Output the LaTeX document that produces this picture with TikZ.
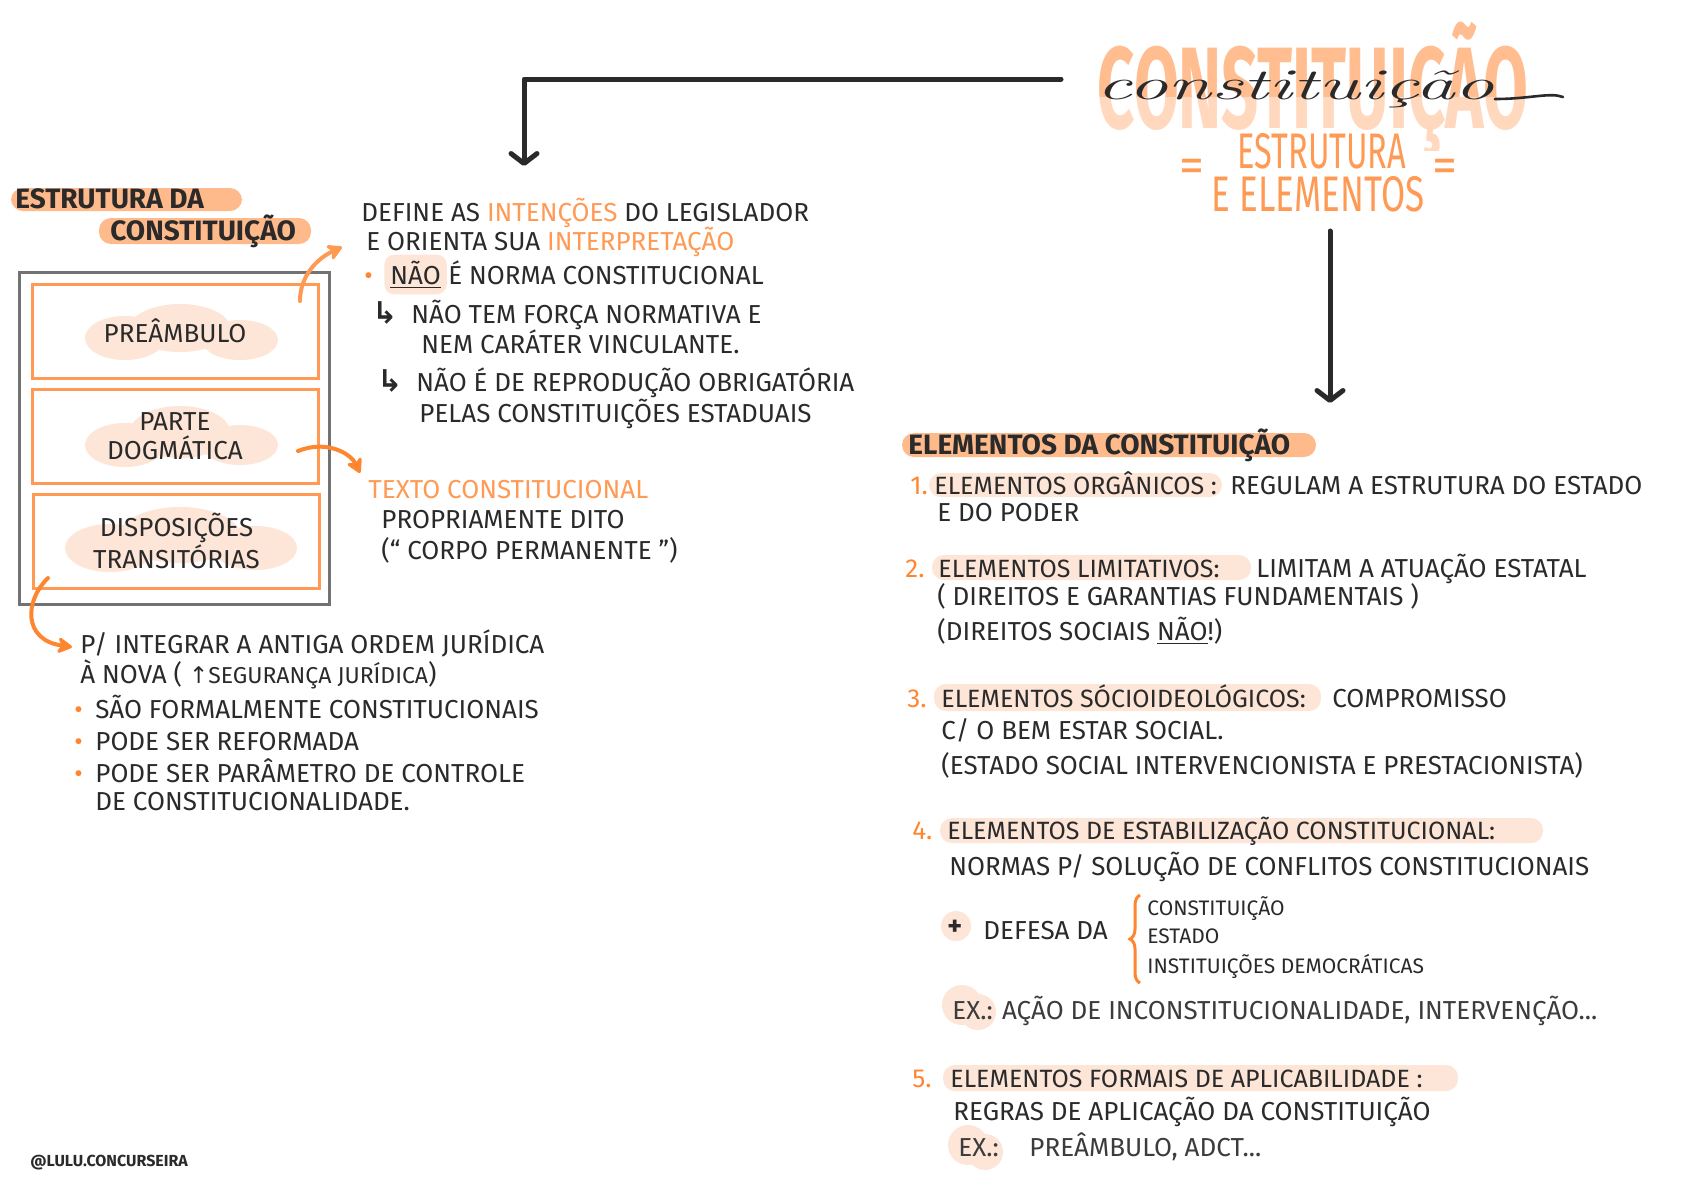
\documentclass[tikz,border=0pt]{standalone}
\usepackage{fontspec}
\setsansfont{Fira Sans}
\newfontfamily\symfont{DejaVu Sans}
\usepackage{graphicx}
\usetikzlibrary{arrows.meta, decorations.pathreplacing}
\definecolor{ink}{HTML}{2A2A2A}
\definecolor{ink3}{HTML}{727272}
\definecolor{ink4}{HTML}{3C3C3C}
\definecolor{orng}{HTML}{FF9A55}
\definecolor{orng2}{HTML}{FF8630}
\definecolor{peach}{HTML}{FFBA8C}
\definecolor{peach2}{HTML}{FDE5D7}
\definecolor{ttop}{HTML}{FFBD90}
\definecolor{tbot}{HTML}{FFD8BD}

\begin{document}
\begin{tikzpicture}[x=0.5pt, y=-0.5pt, font=\sffamily\fontsize{13}{14.5}\selectfont,
          tx/.style={anchor=base west, inner sep=0pt, text=ink},
          otx/.style={tx, text=orng},
          num/.style={tx, text=orng2},
          lbl/.style={tx, font=\sffamily\fontsize{12.5}{14}\selectfont},
          hd/.style={tx, font=\sffamily\bfseries\fontsize{14}{16}\selectfont},
          sm/.style={tx, font=\sffamily\fontsize{10.5}{12}\selectfont},
          hook/.style={tx, font=\symfont\bfseries\fontsize{15}{16}\selectfont},
          bar/.style={fill=peach, rounded corners=6pt},
          lbar/.style={fill=peach2, rounded corners=6pt},
          blob/.style={fill=peach2},
          bx/.style={draw=orng, line width=1.5pt, minimum width=143pt, minimum height=47pt,
                     align=center, text=ink},
          ttl/.style={anchor=base, inner sep=0pt, font=\sffamily\bfseries\fontsize{58}{60}\selectfont},
          sub/.style={anchor=base, inner sep=0pt, text=orng, font=\sffamily\fontsize{25}{27}\selectfont},
          karr/.style={draw=ink, line width=2.5pt, line cap=round, line join=round,
                       -{Straight Barb[length=5pt, width=13pt, round]}},
          oarr/.style={line width=2pt, line cap=round, -{Stealth[round, length=9pt, width=10pt]}}]
        \useasboundingbox (0,0) rectangle (1684,1191);
        \fill[white] (0,0) rectangle (1684,1191);

        % title
        \begin{scope}
          \clip (1050,20) rectangle (1560,97);
          \node[ttl, text=ttop] (ttl) at (1313,128) {\scalebox{0.56}[1]{CONSTITUIÇÃO}};
        \end{scope}
        \begin{scope}
          \clip (1050,97) rectangle (1560,150);
          \node[ttl, text=tbot] (ttlb) at (1313,128) {\scalebox{0.56}[1]{CONSTITUIÇÃO}};
        \end{scope}
        \node[anchor=base west, inner sep=0pt, text=ink] (scr) at (1096,99)
          {\scalebox{1.8}[1]{\rmfamily\itshape\fontsize{22}{24}\selectfont constituição}};
        \coordinate (scrtail) at (1563,97);
        \draw[ink, line width=1.3pt, line cap=round] (scr.base east) .. controls (1530,99) and (1550,92) .. (scrtail);
        \node[sub] (est) at (1322,168) {\scalebox{0.65}[1]{ESTRUTURA}};
        \node[sub] (elem) at (1318,211) {\scalebox{0.7}[1]{E ELEMENTOS}};
        \node[sub] (eqa) at (1192,182) {=};
        \node[sub] (eqb) at (1445,182) {=};

        % arrows from title
        \coordinate (ta) at (1061,79);
        \coordinate (tb) at (524,79);
        \coordinate (tc) at (524,166);
        \draw[karr] (ta) -- (tb) -- (tc);
        \coordinate (ra) at (1330,231);
        \coordinate (rb) at (1330,403);
        \draw[karr] (ra) -- (rb);

        % estrutura da constituicao
        \fill[bar] (11,188) rectangle (242,211);
        \node[hd] (h1) at (15,208) {ESTRUTURA DA};
        \fill[bar] (99,218) rectangle (311,244);
        \node[hd] (h2) at (110,240) {CONSTITUIÇÃO};

        \draw[ink3, line width=1.5pt] (19,272) rectangle (329,604);
        \fill[blob] (125,338) ellipse (40 and 22) (180,328) ellipse (50 and 24) (240,340) ellipse (38 and 20);
        \fill[blob] (125,445) ellipse (40 and 22) (180,432) ellipse (50 and 26) (240,445) ellipse (38 and 20);
        \fill[blob] (110,548) ellipse (45 and 24) (180,535) ellipse (60 and 28) (255,548) ellipse (42 and 22);
        \node[bx] (pre) at (175,331) {PREÂMBULO};
        \node[bx] (dog) at (175,436) {PARTE\\DOGMÁTICA};
        \node[bx] (dis) at (176.5,541) {DISPOSIÇÕES\\TRANSITÓRIAS};

        \coordinate (o1a) at (300,301);
        \coordinate (o1b) at (342,247);
        \draw[oarr, orng] (o1a) .. controls (300,275) and (318,258) .. (o1b);
        \coordinate (o2a) at (298,451);
        \coordinate (o2b) at (360,473);
        \draw[oarr, orng2] (o2a) .. controls (325,440) and (350,452) .. (o2b);
        \coordinate (o3a) at (48,578);
        \coordinate (o3b) at (72,647);
        \draw[oarr, orng2] (o3a) .. controls (25,600) and (22,640) .. (o3b);

        % preambulo
        \node[tx] (l1) at (361,221) {DEFINE AS \textcolor{orng}{INTENÇÕES} DO LEGISLADOR};
        \node[tx] (l2) at (366,250) {E ORIENTA SUA \textcolor{orng}{INTERPRETAÇÃO}};
        \node[tx, text=orng2] (b1) at (364,284) {•};
        \node[tx, fill=peach2, rounded corners=5pt, inner sep=3pt] (nao) at (384,284) {\underline{NÃO}};
        \node[tx] (l3) at (448,284) {É NORMA CONSTITUCIONAL};
        \node[hook] (k1) at (372,323) {↳};
        \node[tx] (l4) at (411,323) {NÃO TEM FORÇA NORMATIVA E};
        \node[tx] (l5) at (421,353) {NEM CARÁTER VINCULANTE.};
        \node[hook] (k2) at (377,391) {↳};
        \node[tx] (l6) at (416,391) {NÃO É DE REPRODUÇÃO OBRIGATÓRIA};
        \node[tx] (l7) at (419,422) {PELAS CONSTITUIÇÕES ESTADUAIS};

        % parte dogmatica
        \node[otx] (d1) at (368,498) {TEXTO CONSTITUCIONAL};
        \node[tx] (d2) at (381,528) {PROPRIAMENTE DITO};
        \node[tx] (d3) at (381,559) {(“ CORPO PERMANENTE ”)};

        % disposicoes transitorias
        \node[tx] (t1) at (80,653) {P/ INTEGRAR A ANTIGA ORDEM JURÍDICA};
        \node[tx] (t2) at (80,683) {À NOVA ( {\fontsize{11.5}{13}\selectfont{\symfont ↑}SEGURANÇA JURÍDICA})};
        \node[tx, text=orng2] (tb1) at (74,718) {•};
        \node[tx] (t3) at (95,718) {SÃO FORMALMENTE CONSTITUCIONAIS};
        \node[tx, text=orng2] (tb2) at (74,750) {•};
        \node[tx] (t4) at (95,750) {PODE SER REFORMADA};
        \node[tx, text=orng2] (tb3) at (74,782) {•};
        \node[tx] (t5) at (95,782) {PODE SER PARÂMETRO DE CONTROLE};
        \node[tx] (t6) at (95,810) {DE CONSTITUCIONALIDADE.};

        % elementos
        \fill[bar] (902,433) rectangle (1316,457);
        \node[hd] (eh) at (908,454) {ELEMENTOS DA CONSTITUIÇÃO};

        \node[num] (n1) at (910,494) {1.};
        \fill[lbar] (929,473) rectangle (1222,497);
        \node[lbl] (e1) at (934,494) {ELEMENTOS ORGÂNICOS :};
        \node[tx] (e1b) at (1230,494) {REGULAM A ESTRUTURA DO ESTADO};
        \node[tx] (e1c) at (937,521) {E DO PODER};

        \node[num] (n2) at (905,577) {2.};
        \fill[lbar] (932,555) rectangle (1251,580);
        \node[lbl] (e2) at (938,577) {ELEMENTOS LIMITATIVOS:};
        \node[tx] (e2b) at (1256,577) {LIMITAM A ATUAÇÃO ESTATAL};
        \node[tx] (e2c) at (937,605) {( DIREITOS E GARANTIAS FUNDAMENTAIS )};
        \node[tx] (e2d) at (937,640) {(DIREITOS SOCIAIS \underline{NÃO}!)};

        \node[num] (n3) at (907,707) {3.};
        \fill[lbar] (934,684) rectangle (1321,711);
        \node[lbl] (e3) at (941,707) {ELEMENTOS SÓCIOIDEOLÓGICOS:};
        \node[tx] (e3b) at (1332,707) {COMPROMISSO};
        \node[tx] (e3c) at (941,739) {C/ O BEM ESTAR SOCIAL.};
        \node[tx] (e3d) at (941,774) {(ESTADO SOCIAL INTERVENCIONISTA E PRESTACIONISTA)};

        \node[num] (n4) at (912,839) {4.};
        \fill[lbar] (940,818) rectangle (1543,843);
        \node[lbl] (e4) at (947,839) {ELEMENTOS DE ESTABILIZAÇÃO CONSTITUCIONAL:};
        \node[tx] (e4b) at (949,875) {NORMAS P/ SOLUÇÃO DE CONFLITOS CONSTITUCIONAIS};
        \fill[blob] (956,926) circle (15);
        \node[tx, font=\sffamily\bfseries\fontsize{14}{15}\selectfont] (plus) at (947,935) {+};
        \node[tx] (e4c) at (983,939) {DEFESA DA};
        \coordinate (bra) at (1140,895);
        \coordinate (brb) at (1140,983);
        \draw[orng2, line width=1.5pt, decorate, decoration={brace, amplitude=5pt, mirror}] (bra) -- (brb);
        \node[sm] (f1) at (1147,915) {CONSTITUIÇÃO};
        \node[sm] (f2) at (1147,943) {ESTADO};
        \node[sm] (f3) at (1147,973) {INSTITUIÇÕES DEMOCRÁTICAS};
        \fill[blob] (962,1005) circle (20) (978,1012) circle (18);
        \node[tx, text=ink4] (x1) at (952,1019) {EX.: AÇÃO DE INCONSTITUCIONALIDADE, INTERVENÇÃO...};

        \node[num] (n5) at (912,1087) {5.};
        \fill[lbar] (943,1065) rectangle (1458,1091);
        \node[lbl] (e5) at (950,1087) {ELEMENTOS FORMAIS DE APLICABILIDADE :};
        \node[tx] (e5b) at (953,1120) {REGRAS DE APLICAÇÃO DA CONSTITUIÇÃO};
        \fill[blob] (968,1145) circle (20) (985,1152) circle (18);
        \node[tx, text=ink4] (x2) at (958,1156) {EX.:};
        \node[tx, text=ink4] (x3) at (1029,1156) {PREÂMBULO, ADCT...};

        \node[tx, font=\sffamily\bfseries\fontsize{8}{10}\selectfont] (sig) at (30,1166) {@LULU.CONCURSEIRA};
      \end{tikzpicture}
\end{document}
